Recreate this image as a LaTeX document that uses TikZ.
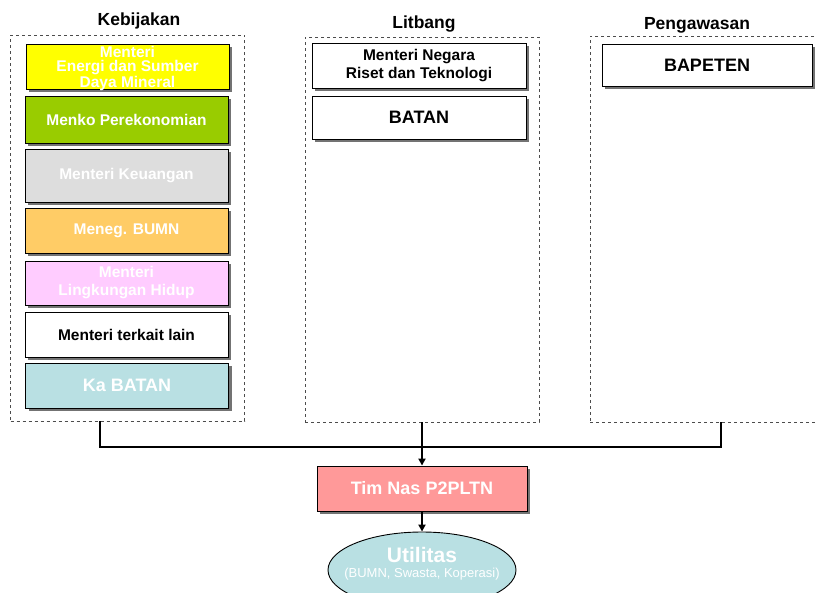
\documentclass[tikz,border=0pt]{standalone}
\usepackage{fontspec}
\setmainfont{Liberation Sans}
\usetikzlibrary{shapes.geometric,shadows,arrows.meta}
\definecolor{MyYellow}{RGB}{255, 255, 0}
\definecolor{MyGreen}{RGB}{153, 204, 0}
\definecolor{MyGrey}{RGB}{221, 221, 221}
\definecolor{MyOrange}{RGB}{255, 204, 102}
\definecolor{MyPink}{RGB}{255, 204, 255}
\definecolor{MyTeal}{RGB}{185, 224, 227}
\definecolor{MyRose}{RGB}{255, 153, 153}
\newcommand{\lw}{0.9pt}
\newcommand{\boxfont}{\fontsize{15.5}{18}\selectfont\bfseries}

\begin{document}
\begin{tikzpicture}[x=1pt, y=-1pt,
  box/.style={draw, line width=\lw, minimum width=203pt, inner sep=0pt, align=center,
    font=\boxfont, text=white,
    drop shadow={shadow xshift=3pt, shadow yshift=-3pt, fill=black!55, opacity=1}},
  group/.style={draw=black!70, dashed, line width=\lw, minimum width=234pt, inner sep=0pt},
  title/.style={font=\fontsize{17.5}{20}\selectfont\bfseries, anchor=base},
  bus/.style={line width=2.5pt},
  arrow/.style={line width=2pt, -{Triangle[length=7pt, width=7pt]}}]
  \useasboundingbox (0,0) rectangle (816,592);
  % groups
  \node[group, minimum height=386pt] (kebijakan)  at (127.5, 228) {};
  \node[group, minimum height=385pt] (litbang)    at (422, 229.5) {};
  \node[group, minimum height=386pt] (pengawasan) at (707, 229) {};
  \node[title] (tkeb) at (139, 25)   {Kebijakan};
  \node[title] (tlit) at (424, 28)   {Litbang};
  \node[title] (tpen) at (697, 29.5) {Pengawasan};
  % kebijakan
  \node[box, fill=MyYellow, minimum height=45pt, text height=43.5pt, text depth=1.5pt,
    font=\fontsize{15.5}{14.5}\selectfont\bfseries]
    (esdm) at (127.5, 66.5) {Menteri\\Energi dan Sumber\\Daya Mineral};
  \node[box, fill=MyGreen,  minimum height=47pt] (menko) at (126.5, 119.5) {Menko Perekonomian};
  \node[box, fill=MyGrey,   minimum height=53pt] (keu)   at (126.5, 175.5) {Menteri Keuangan};
  \node[box, fill=MyOrange, minimum height=45pt] (bumn)  at (126.5, 230.5) {Meneg. BUMN};
  \node[box, fill=MyPink,   minimum height=44pt] (klh)   at (126.5, 283)   {Menteri\\Lingkungan Hidup};
  \node[box, fill=white, text=black, minimum height=45pt] (lain) at (126.5, 334.5) {Menteri terkait lain};
  \node[box, fill=MyTeal, minimum height=45pt, font=\fontsize{18}{20}\selectfont\bfseries]
    (kabatan) at (127, 385.5) {Ka BATAN};
  % litbang
  \node[box, fill=white, text=black, minimum width=214pt, minimum height=45pt]
    (ristek) at (419, 65.5) {Menteri Negara\\Riset dan Teknologi};
  \node[box, fill=white, text=black, minimum width=214pt, minimum height=43pt,
    font=\fontsize{18}{20}\selectfont\bfseries] (batan) at (419, 117.5) {BATAN};
  % pengawasan
  \node[box, fill=white, text=black, minimum width=210pt, minimum height=42pt,
    font=\fontsize{18}{20}\selectfont\bfseries] (bapeten) at (707, 65) {BAPETEN};
  % bottom
  \node[box, fill=MyRose, minimum width=210pt, minimum height=45pt,
    font=\fontsize{18}{20}\selectfont\bfseries] (timnas) at (422, 488.5) {Tim Nas P2PLTN};
  \node[ellipse, draw, line width=\lw, fill=MyTeal, minimum width=188pt, minimum height=76pt,
    inner sep=0pt] (util) at (422, 570) {};
  \node[align=center, text=white, inner sep=0pt] (utiltext) at (422, 564)
    {{\fontsize{21}{22}\selectfont\bfseries Utilitas}\\[3pt]{\fontsize{13}{14}\selectfont (BUMN, Swasta, Koperasi)}};
  % connectors
  \coordinate (busL) at (100, 447);
  \coordinate (busR) at (721, 447);
  \draw[bus] (kebijakan.south -| busL) -- (busL) -- (busR) -- (pengawasan.south -| busR);
  \draw[arrow] (litbang.south) -- (timnas.north);
  \draw[arrow] (timnas.south) -- (util.north);
\end{tikzpicture}
\end{document}
